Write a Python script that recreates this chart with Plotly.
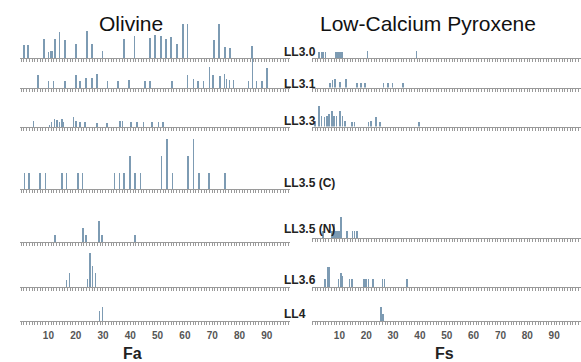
import plotly.graph_objects as go

W, H = 581, 362

# ---------------- data ----------------
row_labels = ["LL3.0", "LL3.1", "LL3.3", "LL3.5 (C)", "LL3.5 (N)", "LL3.6", "LL4"]
tick_vals = [10, 20, 30, 40, 50, 60, 70, 80, 90]

# Olivine (Fa, mol%) -- bar positions and relative frequencies
fa_ll30 = [1, 2.5, 8.4, 10.1, 11, 11.5, 12.5, 14, 16.1, 20.1, 24.1, 25.9, 29.8, 37.7, 41.6,
           47.3, 49.1, 51.3, 53, 54.9, 57.1, 59.2, 61, 70.7, 72.6, 74.7, 76.6, 84.5]
fa_ll30_f = [13, 13, 19, 6, 7, 7, 19, 26, 18, 14, 27, 14, 7, 19, 22,
             20, 23, 22, 19, 21, 14, 34, 34, 18, 34, 11, 10, 12]
fa_ll31 = [6.3, 10, 11.8, 16.1, 20.1, 21.6, 23.8, 25.9, 27.7, 31.7, 35.6, 39.6, 45.4, 47.3, 55.2,
           61, 63.1, 64.9, 66.8, 69, 70.4, 72.9, 74.5, 75.3, 76.3, 77.8, 83.3, 84.7, 86.3, 88.2, 90]
fa_ll31_f = [13, 7, 7, 7, 13, 7, 10, 10, 14, 7, 7, 8, 7, 7, 7,
             13, 9, 7, 7, 21, 13, 12, 14, 9, 8, 8, 7, 42, 7, 7, 20]
fa_ll33 = [4.5, 10.4, 11.2, 12.2, 13.1, 14, 14.9, 15.5, 19.2, 20.1, 21.6, 23.4, 27.7, 31.4,
           36.3, 37.1, 40.3, 42.4, 44.8, 47.9, 50.3, 51.9]
fa_ll33_f = [5.7, 2.3, 5, 8.3, 6.7, 5, 8.3, 5, 10, 5.7, 5, 5, 4.3, 4.3,
             5.7, 5.7, 5, 5, 5, 5, 5, 5]
fa_ll35c = [1.2, 2.9, 7, 9, 14.9, 16.7, 20.8, 22.5, 34.2, 36, 37.8, 39.9, 41.8, 43.8,
            51.5, 53.4, 55.4, 61.2, 63.1, 65.1, 68.9, 74.7]
fa_ll35c_f = [16, 16, 16, 16, 16, 16, 16, 16, 16, 16, 16, 33, 16, 16,
              33, 50, 16, 33, 50, 16, 16, 16]
fa_ll35n = [12.5, 22.6, 23.7, 28.6, 29.6, 41.8]
fa_ll35n_f = [6.7, 14, 6.7, 20.7, 6.7, 6.7]
fa_ll36 = [16.7, 17.7, 24.3, 25.2, 26.1, 27.2]
fa_ll36_f = [7.3, 14, 8, 34, 20.7, 14]
fa_ll4 = [28.7, 29.8]
fa_ll4_f = [10, 14]

# Low-Ca pyroxene (Fs, mol%)
fs_ll30 = [2.5, 3.3, 4.0, 4.8, 8.8, 9.5, 10.3, 11.0, 20.4, 38.7]
fs_ll30_f = [6.5, 6.5, 6.5, 6.5, 6.5, 6.5, 6.5, 6.5, 7, 7]
fs_ll31 = [6.5, 7.5, 8.4, 10.3, 12.4, 16.5, 18.1, 19.6, 26.4, 28.1, 29.8, 33.7]
fs_ll31_f = [4.7, 8, 9, 5.7, 9, 4.7, 4.7, 4.7, 4.7, 4.7, 4.7, 4.7]
fs_ll33 = [0.9, 2.4, 3.4, 4.4, 5.3, 6.2, 7.2, 8.0, 9.0, 10.3, 11.1, 12.1, 14.6, 15.6,
           20.8, 21.7, 23.6, 25.2, 39.7]
fs_ll33_f = [6, 21, 11, 10, 11, 12.7, 16, 11, 11, 16, 11, 6, 5, 5,
             5, 6, 10, 5, 5]
fs_ll35c = []
fs_ll35c_f = []
fs_ll35n = [3.8, 7.2, 8.0, 8.8, 9.4, 10.1, 10.7, 12.8, 14.9, 15.6, 16.5]
fs_ll35n_f = [7.3, 7.3, 14, 7.3, 7.3, 7.3, 20.7, 7.3, 7.3, 7.3, 7.3]
fs_ll36 = [4.7, 5.7, 6.3, 9.6, 10.5, 11.1, 13.7, 14.6, 19.2, 20.0, 20.8, 22.5, 26.0, 26.8, 35.1]
fs_ll36_f = [8.3, 19.7, 19.7, 8.3, 14, 10.7, 8.3, 8.3, 8.3, 8.3, 8.3, 8.3, 8.3, 8.3, 8.3]
fs_ll4 = [25.6, 26.3]
fs_ll4_f = [14, 7.3]

olivine = [(fa_ll30, fa_ll30_f), (fa_ll31, fa_ll31_f), (fa_ll33, fa_ll33_f), (fa_ll35c, fa_ll35c_f),
           (fa_ll35n, fa_ll35n_f), (fa_ll36, fa_ll36_f), (fa_ll4, fa_ll4_f)]
pyroxene = [(fs_ll30, fs_ll30_f), (fs_ll31, fs_ll31_f), (fs_ll33, fs_ll33_f), (fs_ll35c, fs_ll35c_f),
            (fs_ll35n, fs_ll35n_f), (fs_ll36, fs_ll36_f), (fs_ll4, fs_ll4_f)]

# ---------------- layout (pixel geometry) ----------------
base_left = [58, 88, 127, 189, 242, 287, 321]
base_right = [58, 87.5, 126.5, None, 238, 287, 321]
label_y = [52, 84, 121, 183, 229, 280, 314]

panels = [
    dict(data=olivine, bases=base_left, xpx=(20, 290), xr=(-0.4, 98.5)),
    dict(data=pyroxene, bases=base_right, xpx=(312, 581), xr=(-0.2, 100)),
]

BAR = "#7d9bb3"
AXC = "#9a9a9a"

def px(p):
    return p / W

def py(p):
    return 1 - p / H

fig = go.Figure()
layout = {}
k = 0
for panel in panels:
    for r, (vals, freqs) in enumerate(panel["data"]):
        b = panel["bases"][r]
        if b is None:
            continue
        k += 1
        sfx = "" if k == 1 else str(k)
        hdom = min(60, b)
        last = (r == len(row_labels) - 1)
        layout["xaxis" + sfx] = dict(
            domain=[px(panel["xpx"][0]), px(panel["xpx"][1])],
            range=list(panel["xr"]), anchor="y" + sfx,
            showline=True, linecolor=AXC, linewidth=1,
            ticks="outside", ticklen=3, tickcolor=AXC, tickwidth=1,
            tickmode="array", tickvals=tick_vals,
            showticklabels=last, ticklabelstandoff=2,
            tickfont=dict(family="Arial", size=10, color="#555555", weight="bold"),
            minor=dict(dtick=1, tick0=0, ticks="outside", ticklen=3, tickcolor=AXC, tickwidth=1),
            showgrid=False, zeroline=False, fixedrange=True,
        )
        layout["yaxis" + sfx] = dict(
            domain=[py(b), py(b - hdom)], range=[0, hdom], anchor="x" + sfx,
            visible=False, fixedrange=True,
        )
        fig.add_trace(go.Bar(
            x=vals, y=freqs, width=0.22, xaxis="x" + sfx, yaxis="y" + sfx,
            marker=dict(color=BAR, line=dict(width=0)), showlegend=False,
            hoverinfo="x+y",
        ))

annotations = []
for lab, yy in zip(row_labels, label_y):
    annotations.append(dict(
        x=px(282), y=py(yy), xref="paper", yref="paper", xanchor="left", yanchor="middle",
        text="<b>" + lab + "</b>", showarrow=False,
        font=dict(family="Arial", size=12, color="#222222"),
    ))
annotations += [
    dict(x=px(131), y=py(23), xref="paper", yref="paper", text="Olivine", showarrow=False,
         xanchor="center", yanchor="middle", font=dict(family="Arial", size=21, color="#111111")),
    dict(x=px(428), y=py(23), xref="paper", yref="paper", text="Low-Calcium Pyroxene", showarrow=False,
         xanchor="center", yanchor="middle", font=dict(family="Arial", size=21, color="#111111")),
    dict(x=px(132), y=py(353), xref="paper", yref="paper", text="<b>Fa</b>", showarrow=False,
         xanchor="center", yanchor="middle", font=dict(family="Arial", size=16, color="#222222")),
    dict(x=px(444), y=py(353), xref="paper", yref="paper", text="<b>Fs</b>", showarrow=False,
         xanchor="center", yanchor="middle", font=dict(family="Arial", size=16, color="#222222")),
]

fig.update_layout(
    width=W, height=H, margin=dict(l=0, r=0, t=0, b=0),
    paper_bgcolor="white", plot_bgcolor="rgba(0,0,0,0)",
    bargap=0, annotations=annotations, **layout,
)

fig.write_html("out.html", config={"displayModeBar": False},
               post_script="document.body.style.margin='0';document.body.style.overflow='hidden';")
